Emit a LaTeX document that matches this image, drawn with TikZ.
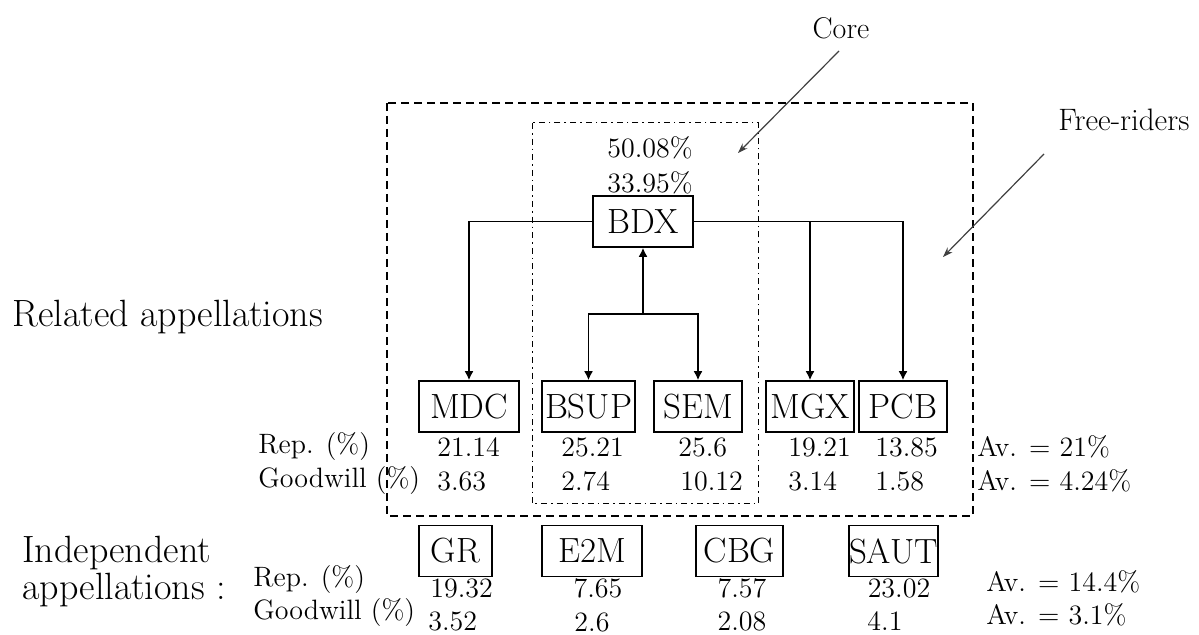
\documentclass[tikz,border=0pt]{standalone}
\usepackage{amsmath,amssymb}
\usepackage{xcolor}
\usetikzlibrary{arrows.meta}

\begin{document}
\begin{tikzpicture}[x=0.5pt,y=-0.5pt,
    appbox/.style={draw, line width=0.8pt, minimum height=25.5pt, inner sep=0pt,
        font=\fontsize{17.5}{20}\selectfont},
    val/.style={inner sep=0pt, font=\fontsize{14}{16}\selectfont},
    biglabel/.style={inner sep=0pt, anchor=west, font=\fontsize{19}{22}\selectfont},
    link/.style={line width=0.8pt, -{Latex[length=4.5pt,width=4.5pt]}},
    pointer/.style={line width=0.6pt, black!75, -{Stealth[length=5pt,width=3.5pt]}}]

    \useasboundingbox (0,0) rectangle (1199,635);

    % zonas: free-riders y core
    \draw[line width=0.7pt, dash pattern=on 4pt off 2.5pt] (387,103) rectangle (973,516);
    \draw[line width=0.5pt, dash pattern=on 3pt off 2pt on 0.8pt off 2pt] (532,123) rectangle (758,504);

    % etiquetas de zonas
    \node[val, font=\fontsize{15}{17}\selectfont] (core) at (841,28) {Core};
    \node[val, anchor=west, font=\fontsize{15.5}{17}\selectfont] (free) at (1058,120) {Free-riders};
    \coordinate (coreTip) at (738,153);
    \coordinate (freeTip) at (943,257);
    \draw[pointer] (839,51) -- (coreTip);
    \draw[pointer] (1044,154) -- (freeTip);

    % appellation principale
    \node[appbox, minimum width=50pt] (BDX) at (643,221.5) {BDX};
    \node[val] (bdxRep) at (650,148) {50.08\%};
    \node[val] (bdxGw) at (650,183) {33.95\%};

    % appellations liees
    \node[appbox, minimum width=50pt] (MDC) at (469,406.5) {MDC};
    \node[appbox, minimum width=46.5pt] (BSUP) at (588.5,406.5) {BSUP};
    \node[appbox, minimum width=44pt] (SEM) at (698,406.5) {SEM};
    \node[appbox, minimum width=44pt] (MGX) at (810,406.5) {MGX};
    \node[appbox, minimum width=44pt] (PCB) at (903,406.5) {PCB};

    % fleches
    \coordinate (split) at (643,314);
    \coordinate (jMGX) at (810,221.5);
    \draw[link] (BDX.west) -| (MDC.north);
    \draw[link] (BDX.east) -| (PCB.north);
    \draw[link] (jMGX) -- (MGX.north);
    \draw[link] (split) -- (BDX.south);
    \draw[link] (split) -| (BSUP.north);
    \draw[link] (split) -| (SEM.north);

    % valeurs liees
    \node[val, anchor=west] (repA) at (258,447) {Rep. (\%)};
    \node[val, anchor=west] (gwA) at (258,481) {Goodwill (\%)};
    \node[val, anchor=west] (mdcRep) at (437,447) {21.14};
    \node[val, anchor=west] (mdcGw) at (437,481) {3.63};
    \node[val, anchor=west] (bsupRep) at (561,447) {25.21};
    \node[val, anchor=west] (bsupGw) at (561,481) {2.74};
    \node[val, anchor=west] (semRep) at (678,447) {25.6};
    \node[val, anchor=west] (semGw) at (680,481) {10.12};
    \node[val, anchor=west] (mgxRep) at (788,447) {19.21};
    \node[val, anchor=west] (mgxGw) at (788,481) {3.14};
    \node[val, anchor=west] (pcbRep) at (875,447) {13.85};
    \node[val, anchor=west] (pcbGw) at (875,481) {1.58};
    \node[val, anchor=west] (avRepA) at (977,447) {Av. = 21\%};
    \node[val, anchor=west] (avGwA) at (977,481) {Av. = 4.24\%};

    % appellations independantes
    \node[appbox, minimum width=36.5pt] (GR) at (455.5,551) {GR};
    \node[appbox, minimum width=50pt] (E2M) at (592,551) {E2M};
    \node[appbox, minimum width=43.5pt] (CBG) at (739.5,551) {CBG};
    \node[appbox, minimum width=43.5pt] (SAUT) at (893.5,551) {SAUT};

    % valeurs independantes
    \node[val, anchor=west] (repB) at (253,580) {Rep. (\%)};
    \node[val, anchor=west] (gwB) at (253,613) {Goodwill (\%)};
    \node[val, anchor=west] (grRep) at (430,588) {19.32};
    \node[val, anchor=west] (grGw) at (428,621) {3.52};
    \node[val] (e2mRep) at (598,588) {7.65};
    \node[val] (e2mGw) at (592,622) {2.6};
    \node[val] (cbgRep) at (742,588) {7.57};
    \node[val] (cbgGw) at (742,621) {2.08};
    \node[val] (sautRep) at (899,588) {23.02};
    \node[val] (sautGw) at (885,621) {4.1};
    \node[val, anchor=west] (avRepB) at (986,582) {Av. = 14.4\%};
    \node[val, anchor=west] (avGwB) at (986,615) {Av. = 3.1\%};

    % leyendas
    \node[biglabel] (related) at (12,317) {Related appellations};
    \node[biglabel] (indep1) at (22,553) {Independent};
    \node[biglabel] (indep2) at (22,590) {appellations :};

\end{tikzpicture}
\end{document}
